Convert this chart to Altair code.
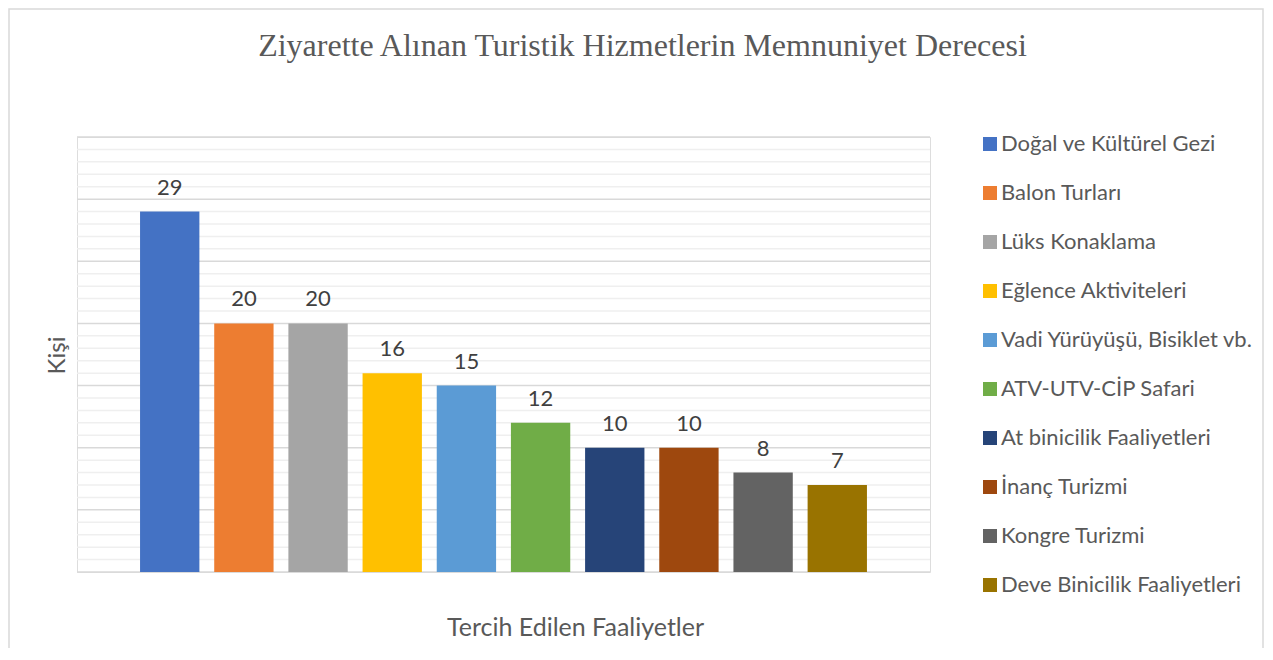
import altair as alt
import pandas as pd

categories = [
    "Doğal ve Kültürel Gezi",
    "Balon Turları",
    "Lüks Konaklama",
    "Eğlence Aktiviteleri",
    "Vadi Yürüyüşü, Bisiklet vb.",
    "ATV-UTV-CİP Safari",
    "At binicilik Faaliyetleri",
    "İnanç Turizmi",
    "Kongre Turizmi",
    "Deve Binicilik Faaliyetleri",
]
values = [29, 20, 20, 16, 15, 12, 10, 10, 8, 7]
colors = ["#4472C4", "#ED7D31", "#A5A5A5", "#FFC000", "#5B9BD5",
          "#70AD47", "#264478", "#9E480E", "#636363", "#997300"]
minor_ticks = [v for v in range(0, 36) if v % 5 != 0]
major_ticks = [v for v in range(0, 36) if v % 5 == 0]

df = pd.DataFrame({"Faaliyet": categories, "Kişi": values})
minor_df = pd.DataFrame({"Kişi": minor_ticks})
major_df = pd.DataFrame({"Kişi": major_ticks})

FONT = "Lato"
W, H = 853, 435
PAD_L, PAD_T = 69, 129
TOTAL_W, TOTAL_H = 1256, 640

y_scale = alt.Scale(domain=[0, 35], nice=False)

x_enc = alt.X(
    "Faaliyet:N",
    sort=None,
    scale=alt.Scale(paddingInner=0.2, paddingOuter=0.85),
    axis=alt.Axis(
        labels=False, ticks=False, domain=False, grid=False,
        title="Tercih Edilen Faaliyetler",
        titleFont=FONT, titleFontSize=25, titleFontWeight="normal",
        titleColor="#595959", titleX=498, titleY=55,
        titleAlign="center", titleBaseline="middle",
    ),
)
y_enc = alt.Y(
    "Kişi:Q",
    scale=y_scale,
    axis=alt.Axis(
        labels=False, ticks=False, domain=False, grid=False,
        title="Kişi", titleFont=FONT, titleFontSize=24,
        titleFontWeight="normal", titleColor="#595959",
        titleAngle=270, titleX=-20, titleY=218,
        titleAlign="center", titleBaseline="middle",
    ),
)

minor_grid = alt.Chart(minor_df).mark_rule(
    color="#EFEFEF", strokeWidth=1.5,
).encode(
    y=alt.Y("Kişi:Q", scale=y_scale),
    x=alt.value(0), x2=alt.value(W),
)
major_grid = alt.Chart(major_df).mark_rule(
    color="#D9D9D9", strokeWidth=1.5,
).encode(
    y=alt.Y("Kişi:Q", scale=y_scale),
    x=alt.value(0), x2=alt.value(W),
)

bars = alt.Chart(df).mark_bar().encode(
    x=x_enc,
    y=y_enc,
    color=alt.Color(
        "Faaliyet:N",
        sort=categories,
        scale=alt.Scale(domain=categories, range=colors),
        legend=alt.Legend(
            title=None, orient="none", legendX=902, legendY=-4,
            symbolType="square", symbolSize=196, symbolStrokeWidth=0,
            labelFont=FONT, labelFontSize=22, labelColor="#595959",
            labelOffset=0, rowPadding=27, padding=0, labelLimit=400,
        ),
    ),
)

labels = alt.Chart(df).mark_text(
    dy=-24, baseline="middle", align="center",
    font=FONT, fontSize=22, color="#404040",
).encode(
    x=alt.X("Faaliyet:N", sort=None),
    y=alt.Y("Kişi:Q"),
    text=alt.Text("Kişi:Q"),
)

border = alt.Chart(alt.Data(values=[{}])).mark_rect(
    fill=None, stroke="#D9D9D9", strokeWidth=1.5,
).encode(
    x=alt.value(-PAD_L + 1),
    x2=alt.value(TOTAL_W - PAD_L - 1),
    y=alt.value(-PAD_T + 1),
    y2=alt.value(TOTAL_H - PAD_T + 10),
)

chart = alt.layer(border, minor_grid, major_grid, bars, labels).properties(
    width=W,
    height=H,
    autosize=alt.AutoSizeParams(type="none"),
    padding={"left": PAD_L, "top": PAD_T,
             "right": TOTAL_W - PAD_L - W, "bottom": TOTAL_H - PAD_T - H},
    title=alt.TitleParams(
        "Ziyarette Alınan Turistik Hizmetlerin Memnuniyet Derecesi",
        font="Liberation Serif", fontSize=32, fontWeight="normal",
        color="#595959", anchor="middle", frame="group",
        baseline="alphabetic", offset=0, dx=139, dy=80,
    ),
).configure_view(strokeWidth=0).configure(background="white")

chart.save("out.html", embed_options={"renderer": "svg", "actions": False})
